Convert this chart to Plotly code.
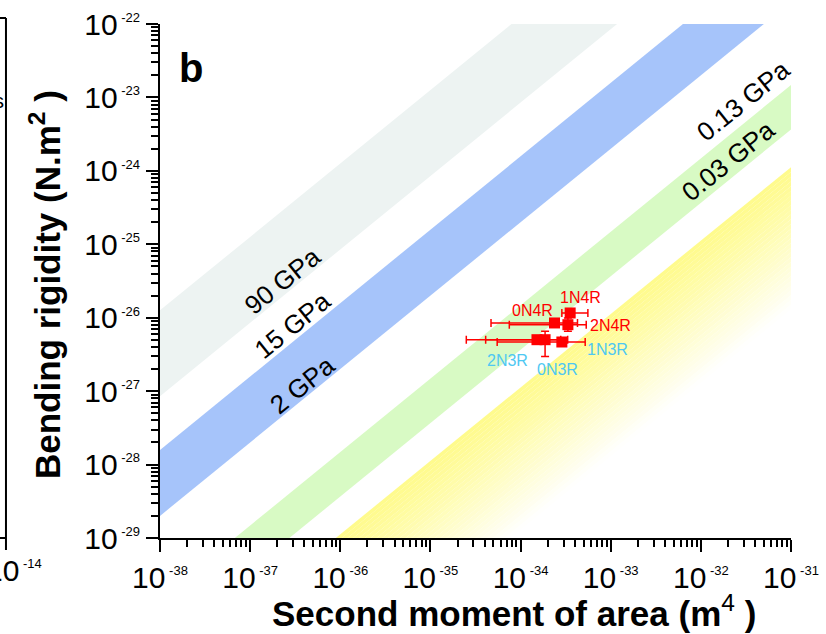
import numpy as np
import plotly.graph_objects as go

# ---------------- data ----------------
# modulus bands (Pa): [lower, upper] ; bending rigidity D = E * I
gray_band_E = [8.5e10, 1.26e12]
blue_band_E = [2.0e9, 1.58e10]
green_band_E = [3.67e7, 1.48e8]
yellow_band_E = [1.3e5, 1.12e7]

band_labels = ["90 GPa", "15 GPa", "2 GPa", "0.13 GPa", "0.03 GPa"]

sample_names = ["1N4R", "0N4R", "2N4R", "2N3R", "0N3R", "1N3R"]
I_vals = [3.55e-34, 2.38e-34, 3.35e-34, 1.52e-34, 1.87e-34, 2.87e-34]
I_err_plus = [2.03e-34, 1.90e-34, 2.00e-34, 1.27e-34, 1.46e-34, 2.34e-34]
I_err_minus = [0.68e-34, 1.91e-34, 2.60e-34, 1.27e-34, 1.46e-34, 2.32e-34]
D_vals = [1.16e-26, 8.48e-27, 8.04e-27, 5.02e-27, 5.02e-27, 4.67e-27]
D_err_plus = [0.6e-27, 0.8e-27, 1.87e-27, 0.5e-27, 1.5e-27, 0.5e-27]
D_err_minus = [0.6e-27, 0.8e-27, 1.52e-27, 0.5e-27, 2.05e-27, 0.5e-27]

x_tick_exps = [-38, -37, -36, -35, -34, -33, -32, -31]
y_tick_exps = [-29, -28, -27, -26, -25, -24, -23, -22]

# ---------------- styling / layout helpers ----------------
FONT = "Liberation Sans, Arial, sans-serif"
RED = "#FF0000"
LBLUE = "#4EC8F2"
label_colors = [RED, RED, RED, LBLUE, LBLUE, LBLUE]
label_shift = [(10, 15), (-22, 12), (43, -1), (-29, -21), (12, -30), (46, -7)]
band_label_pos = [(-36.646, -25.496), (-36.529, -26.095), (-36.424, -26.912),
                  (-31.535, -23.045), (-31.701, -23.862)]

I_ext = [1e-40, 1e-30]


def band_trace(E_lo, E_hi, color):
    xs = [I_ext[0], I_ext[1], I_ext[1], I_ext[0], I_ext[0]]
    ys = [E_hi * I_ext[0], E_hi * I_ext[1], E_lo * I_ext[1], E_lo * I_ext[0], E_hi * I_ext[0]]
    return go.Scatter(x=xs, y=ys, mode="lines", fill="toself", fillcolor=color,
                      line=dict(width=0, color=color), hoverinfo="skip", showlegend=False)


fig = go.Figure()
fig.add_trace(band_trace(gray_band_E[0], gray_band_E[1], "rgb(237,243,242)"))
fig.add_trace(band_trace(blue_band_E[0], blue_band_E[1], "rgb(166,196,250)"))
fig.add_trace(band_trace(green_band_E[0], green_band_E[1], "rgb(216,250,196)"))

# yellow band with gradient fading to white toward lower edge
n_steps = 30
lo, hi = np.log10(yellow_band_E[0]), np.log10(yellow_band_E[1])
edges = np.linspace(hi, lo, n_steps + 1)
top_rgb = np.array([255, 251, 140])
for k in range(n_steps):
    t = ((k + 0.5) / n_steps) ** 1.1
    c = top_rgb + (np.array([255, 255, 255]) - top_rgb) * t
    col = "rgb(%d,%d,%d)" % tuple(np.round(c).astype(int))
    fig.add_trace(band_trace(10 ** edges[k + 1], 10 ** edges[k] * 1.002, col))

# data points
fig.add_trace(go.Scatter(
    x=I_vals, y=D_vals, mode="markers",
    marker=dict(symbol="square", size=11, color=RED, line=dict(width=0)),
    error_x=dict(type="data", symmetric=False, array=I_err_plus, arrayminus=I_err_minus,
                 color=RED, thickness=1.5, width=4),
    error_y=dict(type="data", symmetric=False, array=D_err_plus, arrayminus=D_err_minus,
                 color=RED, thickness=1.5, width=4),
    hoverinfo="skip", showlegend=False))

annotations = []
for name, xv, yv, col, (dx, dy) in zip(sample_names, I_vals, D_vals, label_colors, label_shift):
    annotations.append(dict(x=np.log10(xv), y=np.log10(yv), xref="x", yref="y", text=name,
                            showarrow=False, xshift=dx, yshift=dy,
                            font=dict(family=FONT, size=16, color=col)))
for txt, (lx, ly) in zip(band_labels, band_label_pos):
    annotations.append(dict(x=lx, y=ly, xref="x", yref="y", text=txt, showarrow=False,
                            textangle=-39, font=dict(family=FONT, size=26, color="black")))

# panel letter and axis titles
annotations.append(dict(x=0.027, y=0.914, xref="paper", yref="paper", text="<b>b</b>",
                        showarrow=False, xanchor="left", yanchor="middle",
                        font=dict(family=FONT, size=40, color="black")))
annotations.append(dict(x=-0.1823, y=0.494, xref="paper", yref="paper",
                        text="<b>Bending rigidity (N.m<sup>2</sup> )</b>", textangle=-90,
                        showarrow=False, xanchor="center", yanchor="middle",
                        font=dict(family=FONT, size=35, color="black")))
annotations.append(dict(x=0.5618, y=-0.142, xref="paper", yref="paper",
                        text="<b>Second moment of area (m</b><sup>4</sup><b> )</b>",
                        showarrow=False, xanchor="center", yanchor="middle",
                        font=dict(family=FONT, size=35, color="black")))
# remnants of neighbouring panel (a)
annotations.append(dict(x=-0.2790, y=-0.0623, xref="paper", yref="paper",
                        text="10<sup><span style='font-size:13px'>\u00a0-14</span></sup>",
                        showarrow=False, xanchor="left", yanchor="middle",
                        font=dict(family=FONT, size=30, color="black")))
annotations.append(dict(x=-0.244, y=0.850, xref="paper", yref="paper", text="s",
                        showarrow=False, xanchor="right", yanchor="middle",
                        font=dict(family=FONT, size=20, color="black")))

shapes = [
    dict(type="line", xref="paper", yref="paper", x0=-0.2441, x1=-0.2441, y0=1.0117, y1=-0.0233,
         line=dict(color="black", width=2)),
    dict(type="line", xref="paper", yref="paper", x0=-0.26, x1=-0.2441, y0=1.0117, y1=1.0117,
         line=dict(color="black", width=2)),
    dict(type="line", xref="paper", yref="paper", x0=-0.26, x1=-0.2441, y0=0.0, y1=0.0,
         line=dict(color="black", width=2)),
]


def tick_text(exps):
    return ["10<sup><span style='font-size:13px'>\u00a0%d</span></sup>" % e for e in exps]


axis_common = dict(type="log", showline=True, linecolor="black", linewidth=2,
                   ticks="outside", ticklen=12, tickwidth=2, tickcolor="black",
                   showgrid=False, zeroline=False, mirror=False, automargin=False,
                   tickfont=dict(family=FONT, size=30, color="black"),
                   minor=dict(ticks="outside", ticklen=7, tickwidth=1.5, tickcolor="black",
                              dtick="D1", showgrid=False))

fig.update_layout(
    template="none",
    width=826, height=634,
    margin=dict(l=160, r=35, t=24, b=96, autoexpand=False),
    paper_bgcolor="white", plot_bgcolor="white",
    showlegend=False,
    xaxis=dict(range=[x_tick_exps[0], x_tick_exps[-1]], tickmode="array",
               tickvals=[10.0 ** e for e in x_tick_exps], ticktext=tick_text(x_tick_exps),
               **axis_common),
    yaxis=dict(range=[y_tick_exps[0], y_tick_exps[-1]], tickmode="array",
               tickvals=[10.0 ** e for e in y_tick_exps], ticktext=tick_text(y_tick_exps),
               **axis_common),
    annotations=annotations,
    shapes=shapes,
)

fig.write_html("out.html", config={"displayModeBar": False},
               post_script="document.body.style.margin='0';document.body.style.overflow='hidden';")
